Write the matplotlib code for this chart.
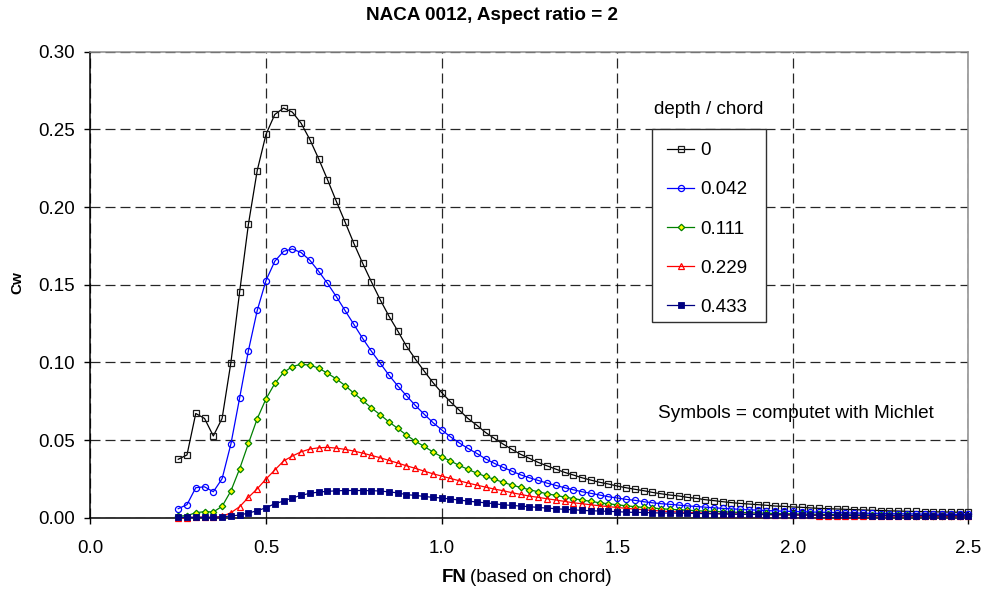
import matplotlib
matplotlib.use("Agg")
import matplotlib.pyplot as plt
from matplotlib.patches import Rectangle
import numpy as np

plt.rcParams['font.family'] = ['Liberation Sans', 'DejaVu Sans']

# ---------------- data ----------------
fn = [0.25, 0.275, 0.3, 0.325, 0.35, 0.375, 0.4, 0.425, 0.45, 0.475,
      0.5, 0.525, 0.55, 0.575, 0.6, 0.625, 0.65, 0.675, 0.7, 0.725,
      0.75, 0.775, 0.8, 0.825, 0.85, 0.875, 0.9, 0.925, 0.95, 0.975,
      1.0, 1.025, 1.05, 1.075, 1.1, 1.125, 1.15, 1.175, 1.2, 1.225,
      1.25, 1.275, 1.3, 1.325, 1.35, 1.375, 1.4, 1.425, 1.45, 1.475,
      1.5, 1.525, 1.55, 1.575, 1.6, 1.625, 1.65, 1.675, 1.7, 1.725,
      1.75, 1.775, 1.8, 1.825, 1.85, 1.875, 1.9, 1.925, 1.95, 1.975,
      2.0, 2.025, 2.05, 2.075, 2.1, 2.125, 2.15, 2.175, 2.2, 2.225,
      2.25, 2.275, 2.3, 2.325, 2.35, 2.375, 2.4, 2.425, 2.45, 2.475, 2.5]

cw_d0 = [0.0376, 0.0404, 0.0671, 0.0639, 0.0526, 0.0639, 0.0998, 0.1455, 0.1890, 0.2235,
         0.2468, 0.2596, 0.2637, 0.2611, 0.2539, 0.2434, 0.2310, 0.2177, 0.2038, 0.1904,
         0.1767, 0.1639, 0.1519, 0.1404, 0.1298, 0.1203, 0.1104, 0.1022, 0.0945, 0.0871,
         0.0806, 0.0746, 0.0693, 0.0639, 0.0596, 0.0549, 0.0511, 0.0474, 0.0440, 0.0408,
         0.0382, 0.0356, 0.0334, 0.0313, 0.0292, 0.0275, 0.0257, 0.0242, 0.0228, 0.0217,
         0.0204, 0.0193, 0.0183, 0.0174, 0.0163, 0.0154, 0.0146, 0.0140, 0.0131, 0.0125,
         0.0116, 0.0110, 0.0103, 0.0097, 0.0092, 0.0088, 0.0084, 0.0080, 0.0075, 0.0073,
         0.0069, 0.0067, 0.0063, 0.0060, 0.0058, 0.0056, 0.0054, 0.0052, 0.0050, 0.0048,
         0.0046, 0.0044, 0.0043, 0.0041, 0.0040, 0.0039, 0.0038, 0.0037, 0.0036, 0.0035, 0.0034]

cw_d042 = [0.0058, 0.0084, 0.0193, 0.0199, 0.0167, 0.0251, 0.0474, 0.0772, 0.1076, 0.1334,
           0.1527, 0.1651, 0.1715, 0.1730, 0.1707, 0.1657, 0.1586, 0.1509, 0.1424, 0.1334,
           0.1245, 0.1155, 0.1072, 0.0995, 0.0918, 0.0849, 0.0785, 0.0723, 0.0667, 0.0613,
           0.0566, 0.0521, 0.0482, 0.0446, 0.0414, 0.0379, 0.0350, 0.0324, 0.0300, 0.0276,
           0.0257, 0.0240, 0.0223, 0.0208, 0.0193, 0.0180, 0.0167, 0.0157, 0.0146, 0.0135,
           0.0127, 0.0118, 0.0112, 0.0103, 0.0096, 0.0090, 0.0086, 0.0081, 0.0076, 0.0072,
           0.0068, 0.0064, 0.0060, 0.0057, 0.0054, 0.0051, 0.0049, 0.0046, 0.0044, 0.0042,
           0.0040, 0.0038, 0.0037, 0.0035, 0.0034, 0.0032, 0.0031, 0.0030, 0.0029, 0.0028,
           0.0027, 0.0026, 0.0025, 0.0025, 0.0024, 0.0023, 0.0023, 0.0022, 0.0022, 0.0021, 0.0021]

cw_d111 = [0.0010, 0.0013, 0.0032, 0.0039, 0.0037, 0.0073, 0.0172, 0.0315, 0.0478, 0.0637,
           0.0765, 0.0864, 0.0935, 0.0973, 0.0988, 0.0982, 0.0963, 0.0930, 0.0894, 0.0851,
           0.0802, 0.0755, 0.0707, 0.0663, 0.0617, 0.0575, 0.0532, 0.0493, 0.0459, 0.0424,
           0.0392, 0.0365, 0.0337, 0.0311, 0.0287, 0.0266, 0.0247, 0.0228, 0.0210, 0.0195,
           0.0180, 0.0167, 0.0154, 0.0144, 0.0133, 0.0123, 0.0114, 0.0105, 0.0096, 0.0090,
           0.0083, 0.0077, 0.0071, 0.0066, 0.0062, 0.0058, 0.0054, 0.0051, 0.0048, 0.0045,
           0.0042, 0.0040, 0.0038, 0.0036, 0.0034, 0.0032, 0.0030, 0.0029, 0.0027, 0.0026,
           0.0025, 0.0024, 0.0023, 0.0022, 0.0021, 0.0020, 0.0019, 0.0018, 0.0018, 0.0017,
           0.0016, 0.0016, 0.0015, 0.0015, 0.0014, 0.0014, 0.0013, 0.0013, 0.0013, 0.0012, 0.0012]

cw_d229 = [0.0000, 0.0000, 0.0004, 0.0004, 0.0002, 0.0008, 0.0032, 0.0071, 0.0131, 0.0186,
           0.0249, 0.0307, 0.0365, 0.0397, 0.0424, 0.0442, 0.0450, 0.0453, 0.0448, 0.0440,
           0.0429, 0.0416, 0.0401, 0.0386, 0.0369, 0.0352, 0.0334, 0.0318, 0.0300, 0.0283,
           0.0268, 0.0253, 0.0238, 0.0223, 0.0210, 0.0197, 0.0184, 0.0174, 0.0161, 0.0150,
           0.0139, 0.0131, 0.0122, 0.0114, 0.0105, 0.0096, 0.0090, 0.0083, 0.0077, 0.0071,
           0.0066, 0.0060, 0.0056, 0.0051, 0.0047, 0.0043, 0.0039, 0.0037, 0.0034, 0.0032,
           0.0030, 0.0028, 0.0026, 0.0025, 0.0023, 0.0022, 0.0021, 0.0020, 0.0019, 0.0018,
           0.0017, 0.0016, 0.0015, 0.0014, 0.0014, 0.0013, 0.0013, 0.0012, 0.0012, 0.0011,
           0.0011, 0.0010, 0.0010, 0.0010, 0.0009, 0.0009, 0.0009, 0.0008, 0.0008, 0.0008, 0.0008]

cw_d433 = [0.0002, 0.0002, 0.0002, 0.0002, 0.0002, 0.0006, 0.0011, 0.0017, 0.0030, 0.0045,
           0.0064, 0.0090, 0.0107, 0.0127, 0.0144, 0.0157, 0.0165, 0.0170, 0.0173, 0.0175,
           0.0175, 0.0175, 0.0174, 0.0172, 0.0166, 0.0160, 0.0148, 0.0144, 0.0137, 0.0131,
           0.0127, 0.0120, 0.0114, 0.0107, 0.0101, 0.0096, 0.0090, 0.0083, 0.0079, 0.0075,
           0.0071, 0.0066, 0.0062, 0.0058, 0.0054, 0.0051, 0.0047, 0.0045, 0.0043, 0.0041,
           0.0039, 0.0036, 0.0034, 0.0034, 0.0032, 0.0030, 0.0030, 0.0029, 0.0028, 0.0027,
           0.0026, 0.0025, 0.0024, 0.0023, 0.0022, 0.0021, 0.0021, 0.0020, 0.0019, 0.0019,
           0.0018, 0.0018, 0.0017, 0.0017, 0.0016, 0.0016, 0.0015, 0.0015, 0.0015, 0.0014,
           0.0014, 0.0014, 0.0013, 0.0013, 0.0013, 0.0013, 0.0012, 0.0012, 0.0012, 0.0012, 0.0011]

series_labels = ["0", "0.042", "0.111", "0.229", "0.433"]
x_ticks = [0.0, 0.5, 1.0, 1.5, 2.0, 2.5]
y_ticks = [0.00, 0.05, 0.10, 0.15, 0.20, 0.25, 0.30]

# ---------------- figure ----------------
W, H = 984, 593
fig = plt.figure(figsize=(W / 100, H / 100), dpi=100)
fig.patch.set_facecolor('white')

x0, x1, y0, y1 = 90.4, 968.4, 51.7, 517.7
ax = fig.add_axes([x0 / W, 1 - y1 / H, (x1 - x0) / W, (y1 - y0) / H])
ax.set_xlim(0, 2.5)
ax.set_ylim(0, 0.30)

styles = [
    dict(color='#000000', marker='s', ms=4.4, mfc='none', mec='#1a1a1a', mew=0.9),
    dict(color='#0000FF', marker='o', ms=4.4, mfc='none', mec='#0000FF', mew=0.9),
    dict(color='#008000', marker='D', ms=3.3, mfc='#FFFF00', mec='#008000', mew=0.9),
    dict(color='#FF0000', marker='^', ms=4.6, mfc='none', mec='#FF0000', mew=0.9),
    dict(color='#000080', marker='s', ms=3.8, mfc='#000080', mec='#000080', mew=0.6),
]
all_series = [cw_d0, cw_d042, cw_d111, cw_d229, cw_d433]
handles = []
for ys, st, lab in zip(all_series, styles, series_labels):
    ln, = ax.plot(fn, ys, lw=0.9, label=lab, zorder=3, clip_on=False, **st)
    handles.append(ln)

# axes styling
ax.set_xticks(x_ticks)
ax.set_yticks(y_ticks)
ax.set_xticklabels([f"{v:.1f}" for v in x_ticks], fontsize=13.5)
ax.set_yticklabels([f"{v:.2f}" for v in y_ticks], fontsize=13.5)
ax.tick_params(axis='both', direction='out', length=4, width=1, color='#000000')
ax.tick_params(axis='x', pad=12)
ax.tick_params(axis='y', pad=7)
ax.tick_params(top=False, right=False)

ax.grid(True, which='major', linestyle=(0, (8, 4)), color='#000000', lw=0.9, alpha=0.85)
ax.set_axisbelow(True)
for s in ['left', 'bottom']:
    ax.spines[s].set_color('#000000')
    ax.spines[s].set_linewidth(1.1)
for s in ['top', 'right']:
    ax.spines[s].set_color('#8c8c8c')
    ax.spines[s].set_linewidth(1.1)
for s in ax.spines.values():
    s.set_zorder(2.5)

# titles / labels
fig.text(492 / W, 1 - 16 / H, "NACA 0012, Aspect ratio = 2", ha='center', va='center',
         fontsize=13.6, fontweight='bold')
fig.text(17 / W, 1 - 283 / H, "Cw", rotation=90, ha='center', va='center',
         fontsize=11, fontweight='bold')
fig.text(442 / W, 1 - 578 / H, "FN", ha='left', va='center', fontsize=13.5, fontweight='bold')
fig.text(470 / W, 1 - 578 / H, "(based on chord)", ha='left', va='center', fontsize=13.5)

fig.text(795.5 / W, 1 - 413 / H, "Symbols = computet with Michlet", ha='center', va='center',
         fontsize=13.7)

# legend
bx0, by0, bx1, by1 = 652, 129, 766, 322
frame = Rectangle((bx0 / W, 1 - by1 / H), (bx1 - bx0) / W, (by1 - by0) / H,
                  transform=fig.transFigure, facecolor='white', edgecolor='#303030',
                  lw=1.0, zorder=1)
fig.add_artist(frame)
fig.text((bx0 + bx1) / 2 / W, 1 - 110 / H, "depth / chord", ha='center', va='center',
         fontsize=13.5)
leg = fig.legend(handles, series_labels, loc='center left',
                 bbox_to_anchor=(667 / W, 1 - 229 / H), bbox_transform=fig.transFigure,
                 frameon=False, fontsize=13.5, handlelength=1.45, handletextpad=0.3,
                 labelspacing=1.17, numpoints=1, borderpad=0.0, borderaxespad=0.0)
leg.set_zorder(5)

fig.savefig("out.png", dpi=100)
